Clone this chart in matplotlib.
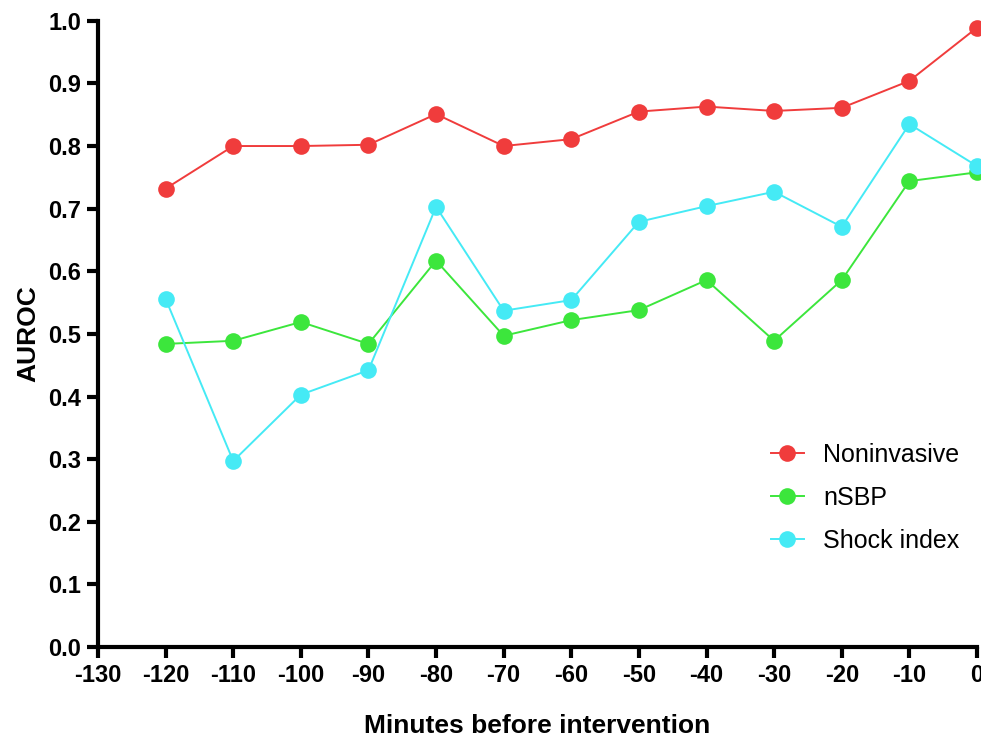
import matplotlib
matplotlib.use("Agg")
import matplotlib.pyplot as plt
from matplotlib import font_manager

minutes = [-120, -110, -100, -90, -80, -70, -60, -50, -40, -30, -20, -10, 0]
noninvasive = [0.732, 0.800, 0.800, 0.802, 0.851, 0.800, 0.811, 0.855, 0.863, 0.856, 0.861, 0.904, 0.989]
nsbp = [0.484, 0.489, 0.519, 0.484, 0.617, 0.497, 0.522, 0.538, 0.586, 0.489, 0.586, 0.744, 0.758]
shock_index = [0.556, 0.297, 0.403, 0.442, 0.703, 0.537, 0.554, 0.679, 0.704, 0.727, 0.671, 0.835, 0.768]
series_names = ["Noninvasive", "nSBP", "Shock index"]
colors = ["#F03C3C", "#3CE63C", "#45EAF5"]
xticks = list(range(-130, 1, 10))
yticks = [0.0, 0.1, 0.2, 0.3, 0.4, 0.5, 0.6, 0.7, 0.8, 0.9, 1.0]

plt.rcParams['font.family'] = ['Liberation Sans', 'DejaVu Sans']
names = {f.name for f in font_manager.fontManager.ttflist}
tick_family = ['Liberation Sans Narrow'] if 'Liberation Sans Narrow' in names else ['Liberation Sans']
tick_size = 19 if 'Liberation Sans Narrow' in names else 17

fig = plt.figure(figsize=(9.81, 7.42), dpi=100)
ax = fig.add_axes([0.0999, 0.128, 0.896, 0.844])

for name, vals, c in zip(series_names, [noninvasive, nsbp, shock_index], colors):
    ax.plot(minutes, vals, color=c, lw=1.4, marker='o', markersize=12,
            markeredgewidth=0, label=name, clip_on=False, zorder=3)

ax.set_xlim(-130, 0)
ax.set_ylim(0, 1.0)
ax.set_xticks(xticks)
ax.set_xticklabels([str(t) for t in xticks])
ax.set_yticks(yticks)
ax.set_yticklabels([f"{t:.1f}" for t in yticks])

for s in ['top', 'right']:
    ax.spines[s].set_visible(False)
for s in ['left', 'bottom']:
    ax.spines[s].set_linewidth(3)
ax.tick_params(axis='both', which='major', length=8, width=3, direction='out', pad=4)
for lab in ax.get_xticklabels() + ax.get_yticklabels():
    lab.set_fontweight('bold')
    lab.set_family(tick_family)
    lab.set_fontsize(tick_size)

ax.set_xlabel("Minutes before intervention", fontsize=19, fontweight='bold', labelpad=20)
ax.set_ylabel("AUROC", fontsize=19, fontweight='bold', labelpad=6)

leg = ax.legend(loc='center right', bbox_to_anchor=(0.997, 0.238), frameon=False,
                fontsize=18, handlelength=1.35, labelspacing=0.75, handletextpad=0.75,
                borderaxespad=0.2)

fig.savefig("out.png", dpi=100)
